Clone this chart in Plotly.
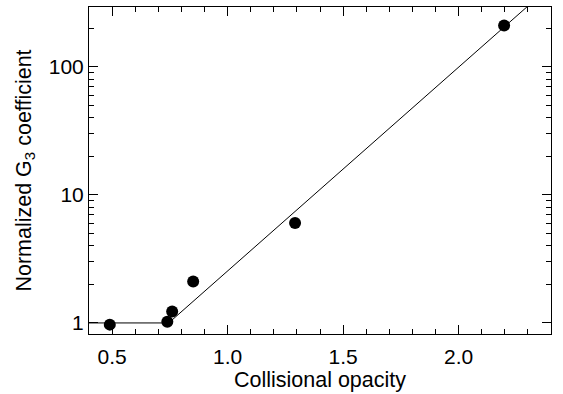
import plotly.graph_objects as go

# data points
opacity = [0.49, 0.739, 0.76, 0.851, 1.292, 2.197]
g3 = [0.97, 1.02, 1.23, 2.11, 6.03, 210]

# fitted piecewise line
fit_x = [0.4, 0.745, 2.4]
fit_y = [1.0, 1.0, 430.0]

x_ticks = [0.5, 1.0, 1.5, 2.0]
x_ticklabels = ["0.5", "1.0", "1.5", "2.0"]
y_ticks = [1, 10, 100]
y_ticklabels = ["1", "10", "100"]

fig = go.Figure()
fig.add_trace(go.Scatter(x=fit_x, y=fit_y, mode="lines",
                         line=dict(color="black", width=1), showlegend=False))
fig.add_trace(go.Scatter(x=opacity, y=g3, mode="markers",
                         marker=dict(color="black", size=12), showlegend=False))

font = dict(family="Arial", size=21, color="black")
fig.update_layout(
    width=563, height=394,
    margin=dict(l=89, r=12, t=7, b=60),
    paper_bgcolor="white", plot_bgcolor="white",
    font=font,
)
fig.update_xaxes(
    range=[0.4, 2.4], tickvals=x_ticks, ticktext=x_ticklabels,
    tickfont=dict(size=21), ticklabelstandoff=4,
    ticks="inside", ticklen=9, tickwidth=1, tickcolor="black",
    minor=dict(dtick=0.1, ticks="inside", ticklen=5, tickcolor="black", showgrid=False),
    showline=True, linecolor="black", linewidth=1, mirror="allticks",
    showgrid=False, zeroline=False,
    title=dict(text="Collisional opacity", standoff=0, font=dict(size=21.5)),
)
fig.update_yaxes(
    type="log", range=[-0.0864, 2.467], tickvals=y_ticks, ticktext=y_ticklabels,
    tickfont=dict(size=21),
    ticks="inside", ticklen=9, tickwidth=1, tickcolor="black",
    minor=dict(ticks="inside", ticklen=5, tickcolor="black", showgrid=False,
               tickvals=[2,3,4,5,6,7,8,9,20,30,40,50,60,70,80,90,200]),
    showline=True, linecolor="black", linewidth=1, mirror="allticks",
    showgrid=False, zeroline=False,
    title=dict(text="Normalized G<sub>3</sub> coefficient", standoff=11, font=dict(size=21.5)),
)
fig.write_html("out.html")
